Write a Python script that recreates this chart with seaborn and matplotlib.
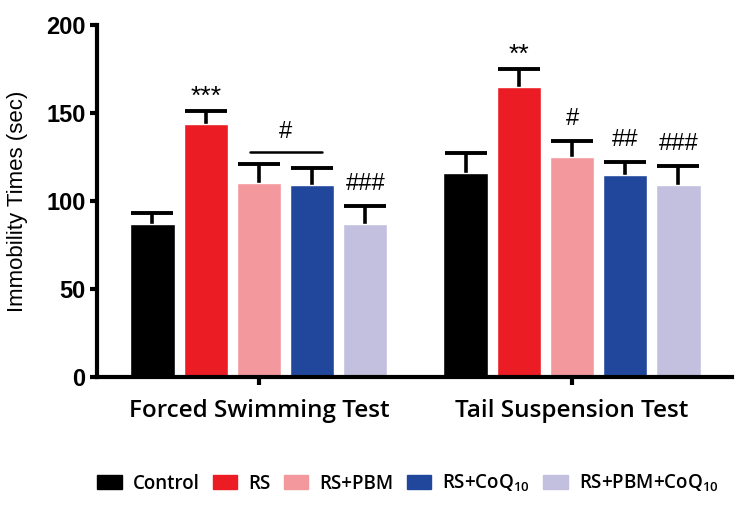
import numpy as np
import pandas as pd
import seaborn as sns
import matplotlib.pyplot as plt

tests = ["Forced Swimming Test", "Tail Suspension Test"]
groups = ["Control", "RS", "RS+PBM", "RS+CoQ$_{10}$", "RS+PBM+CoQ$_{10}$"]
colors = ["#000000", "#EC1C24", "#F3999D", "#21479D", "#C3BFDF"]

# mean immobility time (sec) per group, per test
fst_mean = [87, 144, 110, 109, 87]
tst_mean = [116, 165, 125, 115, 109]
# SEM (only upper bar drawn)
fst_err = [6, 7, 11, 10, 10]
tst_err = [11, 10, 9, 7, 11]
# significance marks
fst_marks = ["", "***", "", "", "###"]
tst_marks = ["", "**", "#", "##", "###"]

df = pd.DataFrame({
    "test": [tests[0]] * 5 + [tests[1]] * 5,
    "group": groups * 2,
    "value": fst_mean + tst_mean,
    "err": fst_err + tst_err,
    "mark": fst_marks + tst_marks,
})

sns.set_style("white")
plt.rcParams.update({
    "mathtext.default": "regular",
    "text.color": "black",
    "axes.labelcolor": "black",
    "xtick.color": "black",
    "ytick.color": "black",
})

fig = plt.figure(figsize=(7.5, 5.07), dpi=100)
ax = fig.add_axes([0.129, 0.256, 0.847, 0.695])

sns.barplot(data=df, x="test", y="value", hue="group", hue_order=groups,
            palette=colors, errorbar=None, width=0.85, gap=0.17,
            saturation=1, ax=ax, legend=False, zorder=2)

# bars come out ordered hue by hue, then test
bars = ax.patches[:10]
xs, ys, es, ms = [], [], [], []
for i, g in enumerate(groups):
    for j, t in enumerate(tests):
        p = bars[i * 2 + j]
        row = df[(df.test == t) & (df.group == g)].iloc[0]
        xs.append(p.get_x() + p.get_width() / 2)
        ys.append(row.value)
        es.append(row.err)
        ms.append(row.mark)

xs, ys, es = np.array(xs), np.array(ys), np.array(es)
eb = ax.errorbar(xs, ys, yerr=[np.zeros_like(es), es], fmt="none", ecolor="black",
                 elinewidth=2.6, capsize=15, capthick=2.8, zorder=1)
# drop the lower cap, keep only the upper one
eb[1][0].set_visible(False)

for x, y, e, m in zip(xs, ys, es, ms):
    if not m:
        continue
    if "*" in m:
        ax.text(x, y + e + 8, m, ha="center", va="center", fontsize=19,
                family="Liberation Sans")
    else:
        ax.text(x, y + e + 12.5, m, ha="center", va="center", fontsize=17,
                family="Liberation Sans")

# "#" over RS+PBM and RS+CoQ10 in FST
x_pbm = xs[groups.index("RS+PBM") * 2]
x_coq = xs[groups.index("RS+CoQ$_{10}$") * 2]
ax.plot([x_pbm - 0.03, x_coq + 0.03], [128, 128], color="black", lw=1.8)
ax.text((x_pbm + x_coq) / 2, 139, "#", ha="center", va="center", fontsize=17,
        family="Liberation Sans")

ax.set_ylim(0, 200)
ax.set_xlim(-0.518, 1.511)
ax.set_yticks([0, 50, 100, 150, 200])
ax.set_xlabel("")
ax.set_ylabel("Immobility Times (sec)", fontsize=16, family="Liberation Sans")
ax.yaxis.set_label_coords(-0.108, 0.5)

for s in ["top", "right"]:
    ax.spines[s].set_visible(False)
for s in ["left", "bottom"]:
    ax.spines[s].set_linewidth(3)
    ax.spines[s].set_color("black")

ax.tick_params(axis="y", direction="out", length=5, width=3, pad=3, left=True)
ax.tick_params(axis="x", direction="out", length=6, width=3, pad=10, bottom=True)
for lab in ax.get_yticklabels():
    lab.set_family("Liberation Sans")
    lab.set_fontweight("bold")
    lab.set_fontsize(17)
for lab in ax.get_xticklabels():
    lab.set_family("Open Sans")
    lab.set_fontweight("semibold")
    lab.set_fontsize(17.5)

handles = [plt.Rectangle((0, 0), 1, 1, color=c) for c in colors]
fig.legend(handles, groups, loc="center", bbox_to_anchor=(0.544, 0.047),
           ncol=5, frameon=False, handlelength=1.3, handleheight=0.75,
           handletextpad=0.6, columnspacing=0.7,
           prop={"family": "Open Sans", "weight": "semibold", "size": 13.5})

fig.savefig("out.png", dpi=100)
